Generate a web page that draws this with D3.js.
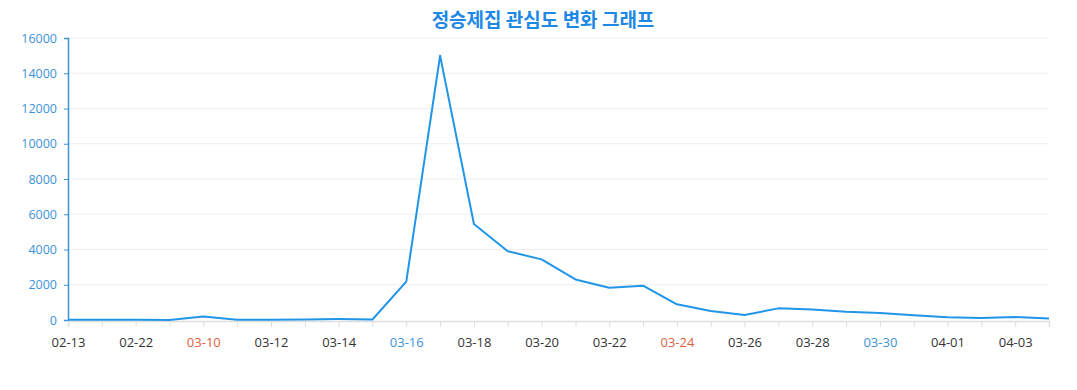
<!DOCTYPE html>
<html>
<head>
<meta charset="utf-8">
<script src="https://cdn.jsdelivr.net/npm/d3@7"></script>
<style>
body { margin: 0; background: #fff; }
#chart { width: 1077px; height: 390px; }
text { font-family: "Open Sans", "Noto Sans", "Noto Sans CJK KR", sans-serif; }
</style>
</head>
<body>
<div id="chart"></div>
<script>
var title = "정승제집 관심도 변화 그래프";

var days = ["02-13", "02-18", "02-22", "03-04", "03-10", "03-11", "03-12", "03-13", "03-14", "03-15",
	"03-16", "03-17", "03-18", "03-19", "03-20", "03-21", "03-22", "03-23", "03-24", "03-25",
	"03-26", "03-27", "03-28", "03-29", "03-30", "03-31", "04-01", "04-02", "04-03", "04-04"];

var counts = [10, 20, 20, 0, 200, 20, 20, 30, 50, 30,
	2180, 15000, 5450, 3900, 3440, 2300, 1830, 1950, 890, 510,
	285, 660, 600, 470, 400, 265, 150, 115, 170, 80];

var yTicks = [0, 2000, 4000, 6000, 8000, 10000, 12000, 14000, 16000];

// weekend colouring of the labels (2019 calendar)
var sundays = ["03-10", "03-24"];
var saturdays = ["03-16", "03-30"];

var element = d3.select("#chart");
var margin = { top: 38, right: 28, bottom: 70, left: 68 };
var width = 1077 - margin.left - margin.right;
var height = 390 - margin.top - margin.bottom;

var svg = element.append("svg")
	.attr("width", 1077)
	.attr("height", 390);

svg.append("text")
	.attr("x", 543)
	.attr("y", 27)
	.attr("text-anchor", "middle")
	.attr("font-size", 19)
	.attr("font-weight", "bold")
	.attr("fill", "#1e88e5")
	.style("font-family", "'Noto Sans CJK KR', sans-serif")
	.text(title);

var g = svg.append("g")
	.attr("transform", "translate(" + margin.left + "," + margin.top + ")");

var x = d3.scalePoint()
	.domain(days)
	.range([0, width]);

var y = d3.scaleLinear()
	.domain([0, 16000])
	.range([height, 0]);

// grid
g.append("g")
	.selectAll("line")
	.data(yTicks.slice(1))
	.enter().append("line")
	.attr("x1", 0)
	.attr("x2", width)
	.attr("y1", function (d) { return y(d); })
	.attr("y2", function (d) { return y(d); })
	.attr("stroke", "#eeeeee");

// y axis
var yAxis = g.append("g")
	.call(d3.axisLeft(y).tickValues(yTicks).tickFormat(d3.format("d")).tickSize(4).tickPadding(7));
yAxis.select(".domain").attr("stroke", "#3d93d8").attr("stroke-width", 1.5);
yAxis.selectAll(".tick line").attr("stroke", "#3d93d8");
yAxis.selectAll("text")
	.attr("fill", "#3d93d8")
	.attr("font-size", 12.5)
	.style("font-family", "'Open Sans', sans-serif");

// x axis
var xAxis = g.append("g")
	.attr("transform", "translate(0," + (height + 1) + ")")
	.call(d3.axisBottom(x).tickSize(6).tickPadding(11).tickFormat(function (d, i) {
		return i % 2 == 0 ? d : "";
	}));
xAxis.select(".domain").attr("stroke", "#dddddd").attr("stroke-width", 1.5);
xAxis.selectAll(".tick line").attr("stroke", "#dddddd");
xAxis.selectAll("text")
	.attr("font-size", 13)
	.style("font-family", "'Open Sans', sans-serif")
	.attr("fill", function (d) {
		if (sundays.indexOf(d) >= 0) return "#e0603f";
		if (saturdays.indexOf(d) >= 0) return "#3d93d8";
		return "#333333";
	});

// line
var line = d3.line()
	.x(function (d, i) { return x(days[i]); })
	.y(function (d) { return y(d); });

g.append("path")
	.datum(counts)
	.attr("fill", "none")
	.attr("stroke", "#2196e8")
	.attr("stroke-width", 2)
	.attr("stroke-linejoin", "round")
	.attr("d", line);
</script>
</body>
</html>
